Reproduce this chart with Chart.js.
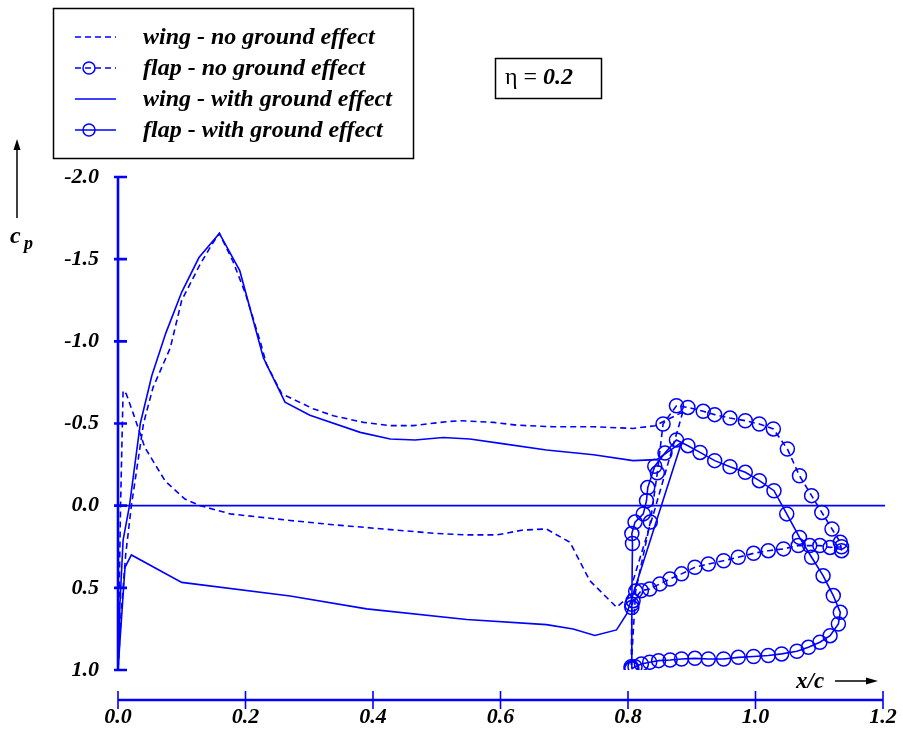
<!DOCTYPE html>
<html>
<head>
<meta charset="utf-8">
<script src="https://cdn.jsdelivr.net/npm/chart.js@4/dist/chart.umd.min.js"></script>
<style>
  html, body { margin: 0; padding: 0; background: #fff; }
  #wrap { width: 903px; height: 731px; position: relative; }
</style>
</head>
<body>
<div id="wrap"><canvas id="cp-chart"></canvas></div>
<script>
// x/c and cp pairs
const wingNoGround = [
  [0.886, -0.57], [0.842, -0.486], [0.808, -0.47], [0.746, -0.48], [0.683, -0.48],
  [0.625, -0.49], [0.589, -0.507], [0.536, -0.517], [0.515, -0.511], [0.463, -0.487],
  [0.427, -0.487], [0.385, -0.507], [0.338, -0.547], [0.306, -0.59], [0.257, -0.68],
  [0.233, -0.86], [0.223, -1.0], [0.2, -1.29], [0.18, -1.49], [0.159, -1.657],
  [0.149, -1.6], [0.129, -1.47], [0.1, -1.25], [0.082, -0.96], [0.055, -0.72],
  [0.04, -0.5], [0.021, 0.0], [0.012, 0.3], [0.005, 0.65], [0.0, 1.0],
  [0.002, 0.5], [0.004, 0.0], [0.008, -0.7], [0.013, -0.68], [0.024, -0.56],
  [0.042, -0.355], [0.074, -0.15], [0.105, -0.04], [0.129, 0.0], [0.176, 0.05],
  [0.27, 0.09], [0.338, 0.116], [0.416, 0.142], [0.495, 0.168], [0.547, 0.178],
  [0.594, 0.178], [0.636, 0.148], [0.672, 0.142], [0.709, 0.223], [0.74, 0.456],
  [0.782, 0.618], [0.8, 0.558], [0.84, 0.05], [0.886, -0.57],
];

const flapNoGround = [
  [1.135, 0.274], [1.133, 0.223], [1.12, 0.142], [1.104, 0.041], [1.088, -0.061],
  [1.069, -0.182], [1.05, -0.345], [1.028, -0.467], [1.006, -0.497], [0.984, -0.517],
  [0.96, -0.533], [0.936, -0.554], [0.918, -0.574], [0.894, -0.598], [0.876, -0.608],
  [0.855, -0.497], [0.846, -0.2], [0.835, 0.1], [0.812, 0.52], [0.805, 0.98],
  [0.806, 0.62], [0.808, 0.578], [0.821, 0.517], [0.834, 0.507], [0.85, 0.476],
  [0.866, 0.446], [0.884, 0.415], [0.905, 0.375], [0.926, 0.355], [0.95, 0.335],
  [0.973, 0.314], [0.997, 0.29], [1.02, 0.274], [1.044, 0.263], [1.067, 0.243],
  [1.085, 0.243], [1.101, 0.243], [1.117, 0.254], [1.135, 0.25],
];

const wingGround = [
  [0.884, -0.385], [0.845, -0.28], [0.808, -0.274], [0.746, -0.31], [0.672, -0.339],
  [0.6, -0.379], [0.552, -0.406], [0.51, -0.415], [0.466, -0.4], [0.427, -0.406],
  [0.38, -0.446], [0.301, -0.55], [0.262, -0.63], [0.228, -0.9], [0.191, -1.43],
  [0.159, -1.657], [0.127, -1.51], [0.1, -1.3], [0.075, -1.05], [0.053, -0.79],
  [0.035, -0.5], [0.018, 0.0], [0.008, 0.21], [0.003, 0.6], [0.0, 1.0],
  [0.011, 0.375], [0.021, 0.3], [0.1, 0.467], [0.27, 0.55], [0.39, 0.628],
  [0.547, 0.693], [0.672, 0.724], [0.714, 0.75], [0.748, 0.79], [0.782, 0.756],
  [0.798, 0.659], [0.884, -0.385],
];

const flapGround = [
  [0.805, 0.99], [0.806, 0.6], [0.807, 0.23], [0.806, 0.17], [0.811, 0.1],
  [0.824, 0.05], [0.829, -0.03], [0.831, -0.11], [0.842, -0.24], [0.858, -0.32],
  [0.876, -0.4], [0.894, -0.365], [0.913, -0.324], [0.936, -0.274], [0.96, -0.237],
  [0.984, -0.203], [1.006, -0.152], [1.029, -0.091], [1.049, 0.05], [1.069, 0.193],
  [1.088, 0.314], [1.106, 0.426], [1.122, 0.547], [1.133, 0.649], [1.13, 0.72],
  [1.117, 0.791], [1.101, 0.831], [1.083, 0.862], [1.065, 0.886], [1.041, 0.902],
  [1.02, 0.912], [0.997, 0.918], [0.973, 0.923], [0.95, 0.933], [0.926, 0.933],
  [0.905, 0.929], [0.884, 0.933], [0.866, 0.939], [0.848, 0.943], [0.834, 0.953],
  [0.821, 0.963], [0.811, 0.98], [0.806, 0.993],
];

const seriesLabels = [
  "wing - no ground effect",
  "flap - no ground effect",
  "wing - with ground effect",
  "flap - with ground effect",
];

const xTickLabels = ["0.0", "0.2", "0.4", "0.6", "0.8", "1.0", "1.2"];
const yTickLabels = ["-2.0", "-1.5", "-1.0", "-0.5", "0.0", "0.5", "1.0"];

const BLUE = "#0000ff";
const DASH = [6, 4];
const tickFont = { family: "Liberation Serif", size: 22, weight: "bold", style: "italic" };

const toPoints = (arr) => arr.map((p) => ({ x: p[0], y: p[1] }));

function lineSet(label, data, dashed, circles) {
  return {
    label: label,
    data: toPoints(data),
    showLine: true,
    borderColor: BLUE,
    borderWidth: 1.6,
    borderDash: dashed ? DASH : [],
    pointRadius: circles ? 7 : 0,
    pointHoverRadius: circles ? 7 : 0,
    pointBorderColor: BLUE,
    pointBorderWidth: 1.5,
    pointBackgroundColor: "rgba(0,0,0,0)",
    tension: 0,
  };
}

// axes, zero line, legend box and notes
const decorations = {
  id: "decorations",
  beforeDatasetsDraw(chart) {
    const { ctx, scales } = chart;
    const x = scales.x, y = scales.y;
    const x0 = x.getPixelForValue(0);
    ctx.save();
    ctx.strokeStyle = BLUE;
    ctx.lineWidth = 1.6;
    ctx.beginPath();
    ctx.moveTo(x0, y.getPixelForValue(0));
    ctx.lineTo(x.getPixelForValue(1.2) + 2, y.getPixelForValue(0));
    ctx.stroke();

    ctx.lineWidth = 2.6;
    ctx.beginPath();
    ctx.moveTo(x0, y.getPixelForValue(-2));
    ctx.lineTo(x0, y.getPixelForValue(1));
    y.ticks.forEach((t) => {
      const py = y.getPixelForValue(t.value);
      ctx.moveTo(x0 - 4, py);
      ctx.lineTo(x0 + 9, py);
    });
    ctx.stroke();

    const axisY = y.getPixelForValue(1) + 30;
    ctx.beginPath();
    ctx.moveTo(x0, axisY);
    ctx.lineTo(x.getPixelForValue(1.2), axisY);
    ctx.stroke();
    ctx.lineWidth = 1.6;
    ctx.beginPath();
    x.ticks.forEach((t) => {
      const px = x.getPixelForValue(t.value);
      ctx.moveTo(px, axisY - 9);
      ctx.lineTo(px, axisY + 9);
    });
    ctx.stroke();
    ctx.restore();
  },
  afterDraw(chart) {
    const ctx = chart.ctx;
    ctx.save();
    ctx.strokeStyle = "#000";
    ctx.fillStyle = "#000";
    ctx.lineWidth = 1.5;
    ctx.strokeRect(53.5, 8.5, 360, 150);

    const rows = [37, 68, 99, 130];
    rows.forEach((ry, i) => {
      ctx.strokeStyle = BLUE;
      ctx.lineWidth = 1.6;
      ctx.setLineDash(i < 2 ? DASH : []);
      ctx.beginPath();
      ctx.moveTo(75, ry);
      ctx.lineTo(116, ry);
      ctx.stroke();
      ctx.setLineDash([]);
      if (i === 1 || i === 3) {
        ctx.lineWidth = 1.5;
        ctx.beginPath();
        ctx.arc(89, ry, 6, 0, Math.PI * 2);
        ctx.stroke();
      }
      ctx.fillStyle = "#000";
      ctx.font = "italic bold 24px 'Liberation Serif'";
      ctx.textBaseline = "middle";
      ctx.textAlign = "left";
      ctx.fillText(seriesLabels[i], 143, ry + 1);
    });

    // eta box
    ctx.strokeStyle = "#000";
    ctx.lineWidth = 1.5;
    ctx.strokeRect(495.5, 58.5, 106, 40);
    ctx.font = "24px 'Liberation Serif'";
    ctx.textBaseline = "middle";
    ctx.fillText("\u03b7 = ", 505, 78);
    const w = ctx.measureText("\u03b7 = ").width;
    ctx.font = "italic bold 24px 'Liberation Serif'";
    ctx.fillText("0.2", 505 + w, 78);

    // y axis label and arrow
    ctx.lineWidth = 1.5;
    ctx.beginPath();
    ctx.moveTo(17, 218);
    ctx.lineTo(17, 145);
    ctx.stroke();
    ctx.beginPath();
    ctx.moveTo(17, 139);
    ctx.lineTo(13.5, 150);
    ctx.lineTo(20.5, 150);
    ctx.closePath();
    ctx.fill();
    ctx.textBaseline = "alphabetic";
    ctx.font = "italic bold 24px 'Liberation Serif'";
    ctx.fillText("c", 10, 243);
    ctx.font = "italic bold 18px 'Liberation Serif'";
    ctx.fillText("p", 24, 249);

    // x axis label and arrow
    ctx.font = "italic bold 23px 'Liberation Serif'";
    ctx.fillText("x/c", 796, 688);
    ctx.beginPath();
    ctx.moveTo(835, 681);
    ctx.lineTo(870, 681);
    ctx.stroke();
    ctx.beginPath();
    ctx.moveTo(878, 681);
    ctx.lineTo(866, 677.5);
    ctx.lineTo(866, 684.5);
    ctx.closePath();
    ctx.fill();
    ctx.restore();
  },
};

const ctx = document.getElementById("cp-chart").getContext("2d");
const cpChart = new Chart(ctx, {
  type: "scatter",
  data: {
    datasets: [
      lineSet(seriesLabels[0], wingNoGround, true, false),
      lineSet(seriesLabels[1], flapNoGround, true, true),
      lineSet(seriesLabels[2], wingGround, false, false),
      lineSet(seriesLabels[3], flapGround, false, true),
    ],
  },
  options: {
    responsive: true,
    maintainAspectRatio: false,
    animation: false,
    layout: { padding: { top: 177, right: 20, left: 0, bottom: 0 } },
    plugins: {
      legend: { display: false },
      tooltip: { enabled: false },
    },
    scales: {
      x: {
        type: "linear",
        min: 0,
        max: 1.2,
        afterFit: (s) => { s.height = 61; },
        // tick marks are drawn by the plugin; tickLength only pushes the labels down
        grid: { display: false, drawTicks: true, tickLength: 34 },
        border: { display: false },
        ticks: {
          stepSize: 0.2,
          padding: 0,
          color: "#000",
          font: tickFont,
          maxRotation: 0,
          callback: (v) => xTickLabels[Math.round(v / 0.2)],
        },
      },
      y: {
        type: "linear",
        min: -2,
        max: 1,
        reverse: true,
        afterFit: (s) => { s.width = 118; },
        grid: { display: false, drawTicks: false },
        border: { display: false },
        ticks: {
          stepSize: 0.5,
          padding: 19,
          color: "#000",
          font: tickFont,
          callback: (v) => yTickLabels[Math.round((v + 2) / 0.5)],
        },
      },
    },
  },
  plugins: [decorations],
});
</script>
</body>
</html>
